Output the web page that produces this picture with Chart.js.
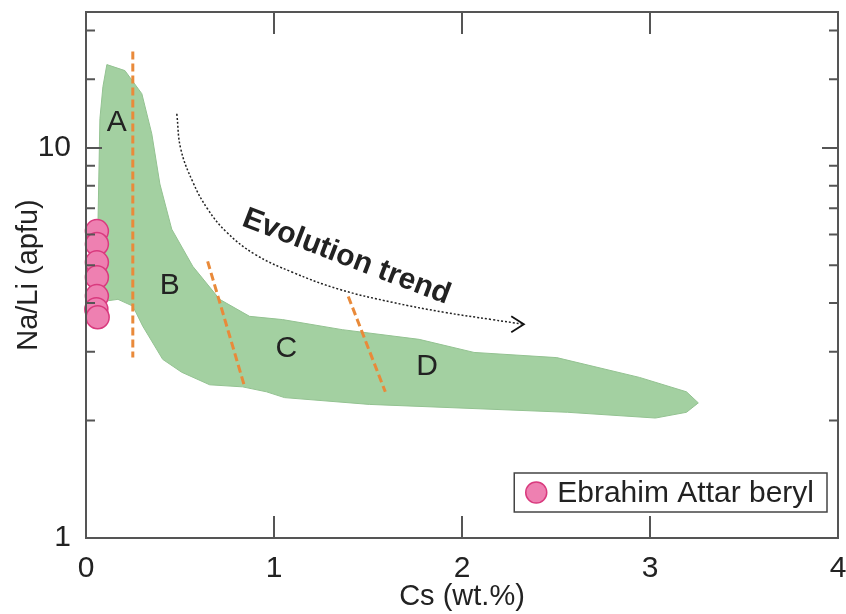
<!DOCTYPE html>
<html>
<head>
  <meta charset="UTF-8">
  <title>Na/Li vs Cs in beryl</title>
  <script src="https://cdn.jsdelivr.net/npm/chart.js"></script>
  <style>
    html, body { margin: 0; padding: 0; background: #fff; }
    #wrap { width: 846px; height: 614px; }
  </style>
</head>
<body>
<div id="wrap"><canvas id="chart" width="846" height="614"></canvas></div>
<script>
  // Ebrahim Attar beryl analyses
  const berylCs = [0.058, 0.058, 0.058, 0.058, 0.058, 0.055, 0.062];
  const berylNaLi = [6.12, 5.67, 5.09, 4.66, 4.17, 3.86, 3.68];

  // green field (outline, closed)
  const fieldCs = [0.111, 0.207, 0.297, 0.350, 0.393, 0.456, 0.568, 0.711, 0.870, 1.045, 1.363, 1.772,
    2.064, 2.504, 2.944, 3.194, 3.257, 3.194, 3.029, 2.562, 1.507, 1.056, 0.960, 0.833, 0.658, 0.509,
    0.408, 0.302, 0.249, 0.170, 0.090, 0.064, 0.074, 0.090, 0.111];
  const fieldNaLi = [16.35, 15.78, 13.77, 10.86, 8.08, 6.19, 4.97, 4.09, 3.70, 3.63, 3.42, 3.23,
    2.99, 2.90, 2.58, 2.37, 2.22, 2.10, 2.03, 2.10, 2.20, 2.29, 2.37, 2.44, 2.47, 2.66,
    2.87, 3.49, 3.93, 4.09, 4.04, 6.57, 11.88, 14.35, 16.35];

  // orange dashed boundaries between zones
  const splitCs = [[0.249, 0.249], [0.647, 0.844], [1.395, 1.592]];
  const splitNaLi = [[17.65, 2.90], [5.12, 2.44], [4.16, 2.37]];

  // evolution trend arrow
  const trendCs = [0.483, 0.504, 0.568, 0.647, 0.748, 0.897, 1.098, 1.347, 1.629, 1.905, 2.159, 2.329];
  const trendNaLi = [12.23, 9.94, 8.18, 6.97, 6.08, 5.34, 4.80, 4.34, 4.02, 3.79, 3.63, 3.53];
  const headCs = [2.262, 2.329, 2.262];
  const headNaLi = [3.70, 3.53, 3.37];

  // zone labels
  const zoneNames = ['A', 'B', 'C', 'D'];
  const zoneCs = [0.164, 0.446, 1.066, 1.814];
  const zoneNaLi = [11.6, 4.42, 3.06, 2.74];
  const trendText = 'Evolution trend';
  const trendTextCs = 1.385;
  const trendTextNaLi = 5.25;

  const xTickLabels = [0, 1, 2, 3, 4];
  const yTickLabels = [1, 10];

  const fam = 'Arial, "Liberation Sans", Helvetica, sans-serif';
  Chart.defaults.font.family = fam;
  Chart.defaults.color = '#222';

  function pts(xs, ys) {
    return xs.map((v, i) => ({ x: v, y: ys[i] }));
  }

  const pink = '#ee80b1';
  const pinkEdge = '#d93a7e';
  const orange = '#e98a3a';

  // frame with inward ticks on all four sides
  const framePlugin = {
    id: 'frame',
    afterDatasetsDraw(chart) {
      const { ctx, chartArea: a, scales: { x, y } } = chart;
      ctx.save();
      ctx.strokeStyle = '#555';
      ctx.lineWidth = 2;
      ctx.strokeRect(a.left, a.top, a.right - a.left, a.bottom - a.top);
      ctx.beginPath();
      x.ticks.forEach(t => {
        const px = x.getPixelForValue(t.value);
        if (px - a.left < 2 || a.right - px < 2) return;
        ctx.moveTo(px, a.bottom); ctx.lineTo(px, a.bottom - 22);
        ctx.moveTo(px, a.top); ctx.lineTo(px, a.top + 22);
      });
      y.ticks.forEach(t => {
        const py = y.getPixelForValue(t.value);
        if (py - a.top < 2 || a.bottom - py < 2) return;
        const len = yTickLabels.includes(t.value) ? 16 : 9;
        ctx.moveTo(a.left, py); ctx.lineTo(a.left + len, py);
        ctx.moveTo(a.right, py); ctx.lineTo(a.right - len, py);
      });
      ctx.stroke();
      ctx.restore();
    }
  };

  // zone letters and trend label
  const notesPlugin = {
    id: 'notes',
    afterDatasetsDraw(chart) {
      const { ctx, scales: { x, y } } = chart;
      ctx.save();
      ctx.fillStyle = '#222';
      ctx.textAlign = 'center';
      ctx.textBaseline = 'middle';
      ctx.font = '30px ' + fam;
      zoneNames.forEach((n, i) => {
        ctx.fillText(n, x.getPixelForValue(zoneCs[i]), y.getPixelForValue(zoneNaLi[i]));
      });
      ctx.translate(x.getPixelForValue(trendTextCs), y.getPixelForValue(trendTextNaLi));
      ctx.rotate(21 * Math.PI / 180);
      ctx.font = 'bold 30px ' + fam;
      ctx.fillText(trendText, 0, 0);
      ctx.restore();
    }
  };

  // legend box inside the plot, lower right
  const legendPlugin = {
    id: 'boxLegend',
    afterDraw(chart) {
      const { ctx, chartArea: a } = chart;
      const ds = chart.data.datasets[0];
      ctx.save();
      ctx.font = '30px ' + fam;
      const tw = ctx.measureText(ds.label).width;
      const w = tw + 56, h = 39;
      const left = a.right - 11 - w, top = a.bottom - 26 - h;
      ctx.fillStyle = '#fff';
      ctx.fillRect(left, top, w, h);
      ctx.strokeStyle = '#444';
      ctx.lineWidth = 1.5;
      ctx.strokeRect(left, top, w, h);
      ctx.beginPath();
      ctx.arc(left + 22, top + h / 2, 10.5, 0, Math.PI * 2);
      ctx.fillStyle = pink;
      ctx.fill();
      ctx.strokeStyle = pinkEdge;
      ctx.lineWidth = 1.5;
      ctx.stroke();
      ctx.fillStyle = '#222';
      ctx.textBaseline = 'middle';
      ctx.fillText(ds.label, left + 43, top + h / 2 + 1);
      ctx.restore();
    }
  };

  const datasets = [
    {
      label: 'Ebrahim Attar beryl',
      data: pts(berylCs, berylNaLi),
      backgroundColor: pink,
      borderColor: pinkEdge,
      borderWidth: 1.5,
      pointRadius: 11.5,
      clip: false
    },
    {
      label: 'head',
      data: pts(headCs, headNaLi),
      showLine: true,
      borderColor: '#111',
      borderWidth: 1.8,
      pointRadius: 0
    },
    {
      label: 'trend',
      data: pts(trendCs, trendNaLi),
      showLine: true,
      tension: 0.4,
      borderColor: '#222',
      borderWidth: 1.5,
      borderDash: [2, 2],
      pointRadius: 0
    }
  ];
  splitCs.forEach((xs, i) => {
    datasets.push({
      label: 'split' + i,
      data: pts(xs, splitNaLi[i]),
      showLine: true,
      borderColor: orange,
      borderWidth: 3,
      borderDash: [8, 4],
      pointRadius: 0
    });
  });
  datasets.push({
    label: 'field',
    data: pts(fieldCs, fieldNaLi),
    showLine: true,
    fill: 'shape',
    backgroundColor: '#a3d0a1',
    borderColor: '#93c291',
    borderWidth: 1,
    pointRadius: 0
  });

  new Chart(document.getElementById('chart').getContext('2d'), {
    type: 'scatter',
    data: { datasets: datasets },
    options: {
      responsive: false,
      animation: false,
      events: [],
      layout: { autoPadding: false, padding: { left: 0, right: 8, top: 12, bottom: 0 } },
      plugins: {
        legend: { display: false },
        tooltip: { enabled: false }
      },
      scales: {
        x: {
          type: 'linear',
          min: 0,
          max: 4,
          grid: { display: false, drawTicks: false },
          border: { display: false },
          ticks: {
            stepSize: 1,
            padding: 13,
            maxRotation: 0,
            font: { size: 30 },
            callback: v => xTickLabels.includes(v) ? String(v) : ''
          },
          title: {
            display: true,
            text: 'Cs (wt.%)',
            font: { size: 29 },
            padding: { top: 0, bottom: 0 }
          },
          afterFit: s => { s.height = 76; s.paddingLeft = 0; s.paddingRight = 0; }
        },
        y: {
          type: 'logarithmic',
          min: 1,
          max: 22.3,
          grid: { display: false, drawTicks: false },
          border: { display: false },
          ticks: {
            autoSkip: false,
            padding: 15,
            font: { size: 30 },
            callback: v => yTickLabels.includes(v) ? String(v) : ''
          },
          title: {
            display: true,
            text: 'Na/Li (apfu)',
            font: { size: 29 },
            padding: { top: 12, bottom: 0 }
          },
          afterFit: s => { s.width = 86; s.paddingTop = 0; s.paddingBottom = 0; }
        }
      }
    },
    plugins: [framePlugin, notesPlugin, legendPlugin]
  });
</script>
</body>
</html>
